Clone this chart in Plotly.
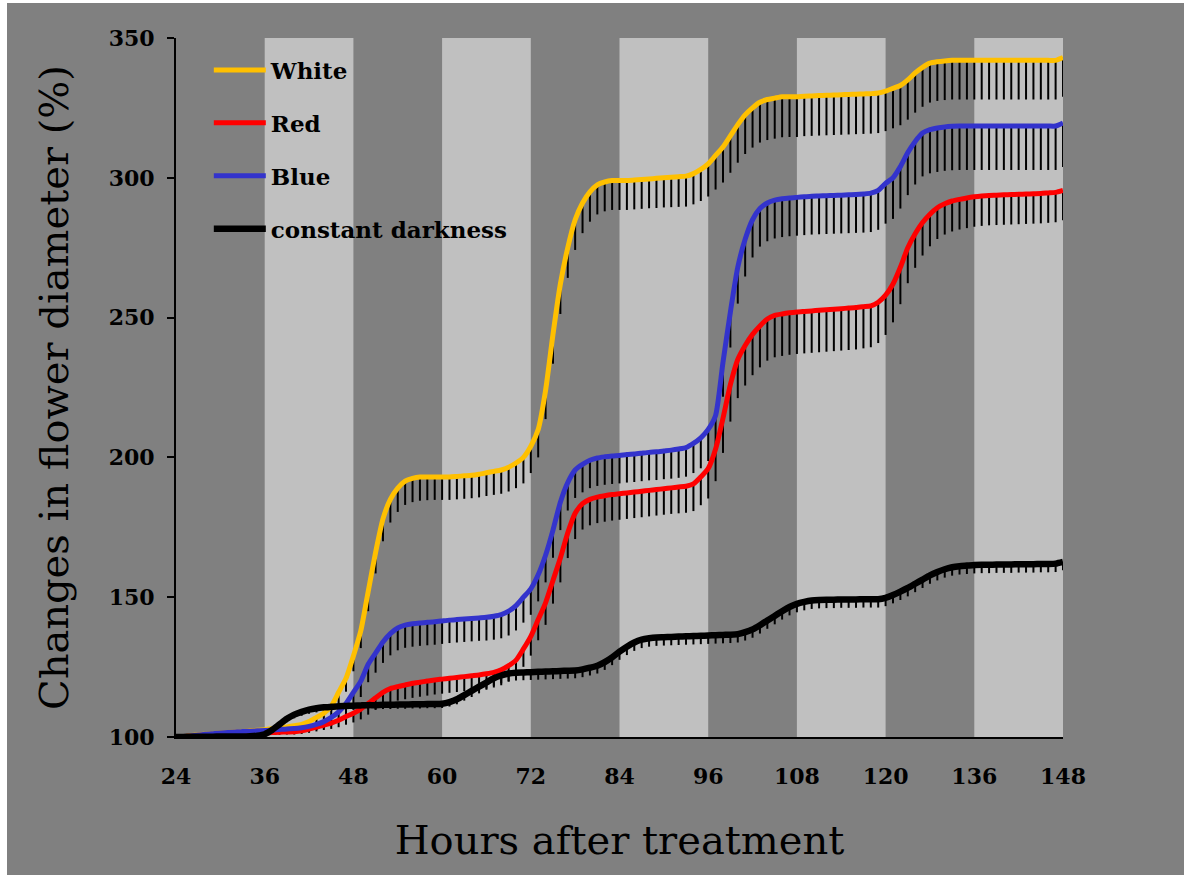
import plotly.graph_objects as go

# ---------------- data ----------------
hours = list(range(24, 145))  # hourly, 24 .. 144

tick_positions = [24, 36, 48, 60, 72, 84, 96, 108, 120, 132, 144]
tick_labels = ["24", "36", "48", "60", "72", "84", "96", "108", "120", "136", "148"]

light_period_starts = [36, 60, 84, 108, 132]
light_period_length = 12

white = [
    100, 100.2, 100.5, 100.8, 101, 101.2, 101.4, 101.6, 101.8, 102,
    102.2, 102.4, 102.6, 103, 103.3, 103.6, 104, 104.5, 105.5, 107,
    108.5, 111, 116, 121, 129, 138, 152, 166, 178, 185,
    189, 191.5, 192.5, 193, 193, 193, 193, 193, 193.2, 193.4,
    193.6, 194, 194.5, 195, 195.5, 196.5, 198, 200, 204, 210,
    224, 244, 262, 275, 285, 291, 295, 297.5, 298.5, 299,
    299, 299, 299.2, 299.4, 299.6, 299.8, 300, 300.2, 300.4, 300.6,
    301.5, 303, 305, 308, 311, 315, 319, 322.5, 325, 327,
    328, 328.5, 329, 329, 329, 329.2, 329.3, 329.4, 329.5, 329.6,
    329.7, 329.8, 329.9, 330, 330.1, 330.3, 331, 332, 333, 335,
    337.5, 339.5, 341, 341.5, 341.8, 342, 342, 342, 342, 342,
    342, 342, 342, 342, 342, 342, 342, 342, 342, 342,
    343,
]
white_err = [
    0.5, 0.5, 0.6, 0.6, 0.7, 0.7, 0.8, 0.8, 0.9, 0.9,
    1, 1, 1, 1.2, 1.3, 1.4, 1.5, 1.7, 2, 2.3,
    2.7, 3.2, 4, 4.8, 5.5, 6.2, 7, 7.5, 8, 8.3,
    8.5, 8.5, 8.5, 8.5, 8.3, 8.2, 8.2, 8.2, 8.2, 8.2,
    8.2, 8.3, 8.3, 8.4, 8.5, 8.7, 9, 9.3, 9.6, 10,
    10.3, 10.5, 10.7, 10.8, 10.8, 10.8, 10.7, 10.6, 10.5, 10.5,
    10.5, 10.5, 10.5, 10.5, 10.5, 10.6, 10.6, 10.7, 10.8, 10.9,
    11, 11.3, 11.7, 12.2, 12.7, 13.2, 13.6, 14, 14.2, 14.4,
    14.5, 14.5, 14.5, 14.4, 14.4, 14.3, 14.3, 14.3, 14.3, 14.3,
    14.3, 14.3, 14.3, 14.3, 14.3, 14.3, 14.3, 14.3, 14.2, 14.2,
    14.2, 14.1, 14.1, 14, 14, 14, 14, 14, 14, 14,
    14, 14, 14, 14, 14, 14, 14, 14, 14, 14,
    14,
]

red = [
    100, 100.1, 100.3, 100.5, 100.7, 100.9, 101, 101.1, 101.2, 101.3,
    101.4, 101.4, 101.5, 101.6, 101.7, 101.8, 101.9, 102.2, 102.8, 103.5,
    104.3, 105, 106, 107.3, 108.5, 110, 112, 114, 116, 117.3,
    118, 118.6, 119.2, 119.6, 120, 120.4, 120.7, 121, 121.3, 121.6,
    121.9, 122.2, 122.6, 123.1, 124, 125.5, 127.5, 131.5, 136, 142,
    148, 156, 164, 173, 180, 183.5, 185, 185.8, 186.3, 186.7,
    187, 187.3, 187.6, 187.9, 188.2, 188.5, 188.8, 189.1, 189.4, 189.7,
    190.5, 193, 196, 203, 214, 226, 235, 240, 244, 247,
    249.5, 250.8, 251.3, 251.7, 252, 252.2, 252.4, 252.6, 252.8, 253,
    253.2, 253.4, 253.6, 253.9, 254.2, 255.5, 258, 262, 268, 275,
    280, 284, 287, 289.3, 290.7, 291.7, 292.3, 292.8, 293.2, 293.5,
    293.7, 293.8, 293.9, 294, 294.1, 294.2, 294.3, 294.4, 294.6, 294.8,
    295.5,
]
red_err = [
    0.4, 0.4, 0.5, 0.5, 0.5, 0.6, 0.6, 0.6, 0.7, 0.7,
    0.7, 0.8, 0.8, 0.8, 0.9, 0.9, 1, 1.1, 1.3, 1.5,
    1.8, 2.1, 2.5, 2.9, 3.3, 3.7, 4, 4.3, 4.6, 4.8,
    5, 5.1, 5.2, 5.2, 5.2, 5.2, 5.2, 5.2, 5.2, 5.2,
    5.2, 5.2, 5.3, 5.4, 5.5, 5.7, 6, 6.4, 6.9, 7.4,
    7.9, 8.3, 8.7, 9, 9.2, 9.3, 9.3, 9.3, 9.3, 9.3,
    9.3, 9.3, 9.3, 9.3, 9.3, 9.3, 9.3, 9.3, 9.4, 9.5,
    9.7, 10.1, 10.7, 11.5, 12.4, 13.2, 13.8, 14.3, 14.6, 14.8,
    14.9, 15, 15, 15, 15, 15, 15, 15, 15, 15,
    15, 15, 15, 14.9, 14.8, 14.6, 14.2, 13.7, 13.2, 12.7,
    12.2, 11.8, 11.5, 11.2, 11, 10.9, 10.8, 10.8, 10.7, 10.7,
    10.7, 10.7, 10.7, 10.7, 10.7, 10.7, 10.7, 10.7, 10.7, 10.7,
    10.7,
]

blue = [
    100, 100.2, 100.4, 100.7, 101, 101.2, 101.4, 101.6, 101.8, 102,
    102.1, 102.2, 102.3, 102.5, 102.7, 102.9, 103, 103.3, 103.8, 104.5,
    105.5, 107, 109, 112, 116, 120, 126, 130, 134, 137,
    139, 140, 140.5, 140.8, 141, 141.2, 141.5, 141.8, 142, 142.2,
    142.4, 142.6, 142.8, 143.2, 143.8, 145, 147, 150, 153, 158,
    165, 174, 184, 191, 195.5, 197.5, 199, 199.8, 200.2, 200.5,
    200.7, 201, 201.2, 201.5, 201.8, 202, 202.3, 202.6, 203, 203.5,
    205, 207, 210, 215, 234, 252, 268, 278, 285, 289,
    291, 292, 292.5, 292.8, 293, 293.2, 293.4, 293.5, 293.6, 293.7,
    293.8, 293.9, 294, 294.2, 294.5, 295.5, 298, 300, 304, 309,
    313, 316, 317.2, 317.8, 318.2, 318.4, 318.5, 318.5, 318.5, 318.5,
    318.5, 318.5, 318.5, 318.5, 318.5, 318.5, 318.5, 318.5, 318.5, 318.5,
    319.6,
]
blue_err = [
    0.5, 0.5, 0.6, 0.6, 0.7, 0.7, 0.8, 0.8, 0.9, 0.9,
    1, 1, 1, 1.1, 1.2, 1.3, 1.4, 1.6, 1.8, 2,
    2.4, 3, 3.6, 4.3, 5, 5.7, 6.4, 7, 7.5, 7.8,
    8, 8.1, 8.2, 8.2, 8.2, 8.2, 8.2, 8.2, 8.2, 8.2,
    8.2, 8.2, 8.3, 8.4, 8.5, 8.7, 8.9, 9.1, 9.3, 9.5,
    9.7, 9.9, 10, 10, 10, 10, 10, 10, 10, 10,
    10, 10, 10, 10, 10, 10.1, 10.1, 10.2, 10.3, 10.4,
    10.6, 10.9, 11.3, 11.8, 12.3, 12.7, 13, 13.3, 13.5, 13.6,
    13.7, 13.7, 13.7, 13.7, 13.7, 13.7, 13.7, 13.7, 13.7, 13.7,
    13.7, 13.7, 13.7, 13.8, 13.9, 14.1, 14.4, 14.7, 15, 15.2,
    15.4, 15.5, 15.6, 15.7, 15.7, 15.7, 15.7, 15.7, 15.7, 15.7,
    15.7, 15.7, 15.7, 15.7, 15.7, 15.7, 15.7, 15.7, 15.7, 15.7,
    15.7,
]

dark = [
    100, 100, 100.1, 100.1, 100.1, 100.1, 100.2, 100.2, 100.2, 100.2,
    100.3, 100.5, 101, 102.5, 104.5, 106.5, 108, 109, 109.8, 110.3,
    110.6, 110.8, 111, 111.1, 111.2, 111.3, 111.4, 111.4, 111.5, 111.5,
    111.6, 111.6, 111.7, 111.7, 111.8, 111.8, 111.9, 112.5, 113.5, 115,
    116.5, 118, 119.5, 121, 122, 122.7, 123, 123.1, 123.2, 123.3,
    123.4, 123.5, 123.6, 123.7, 123.8, 124.2, 124.8, 125.5, 126.8, 128.5,
    130.5, 132.3, 133.8, 134.8, 135.3, 135.6, 135.7, 135.8, 135.9, 136,
    136.1, 136.2, 136.3, 136.4, 136.5, 136.6, 136.8, 137.5, 138.5, 140,
    141.7, 143.3, 145, 146.5, 147.6, 148.3, 148.8, 149, 149.1, 149.1,
    149.2, 149.2, 149.2, 149.3, 149.3, 149.3, 149.8, 150.8, 152, 153.3,
    154.8, 156.3, 157.8, 159, 160, 160.7, 161.1, 161.3, 161.5, 161.6,
    161.6, 161.7, 161.7, 161.7, 161.8, 161.8, 161.8, 161.9, 161.9, 162,
    162.6,
]
dark_err = [
    0.3, 0.3, 0.3, 0.3, 0.3, 0.3, 0.3, 0.3, 0.3, 0.3,
    0.3, 0.4, 0.6, 0.8, 1, 1.2, 1.3, 1.4, 1.5, 1.5,
    1.5, 1.5, 1.5, 1.5, 1.5, 1.5, 1.5, 1.5, 1.5, 1.5,
    1.5, 1.5, 1.5, 1.5, 1.5, 1.5, 1.5, 1.6, 1.8, 2,
    2.2, 2.4, 2.6, 2.7, 2.8, 2.8, 2.8, 2.8, 2.8, 2.8,
    2.8, 2.8, 2.8, 2.8, 2.8, 2.8, 2.8, 2.8, 2.8, 2.8,
    2.9, 3, 3, 3, 3, 3, 3, 3, 3, 3,
    3, 3, 3, 3, 3, 3, 3, 3, 3, 3,
    3, 3, 3, 3, 3, 3, 3, 3, 3, 3,
    3, 3, 3, 3, 3, 3, 3, 3, 3, 3,
    3, 3, 3, 3, 3, 3, 3, 3, 3, 3,
    3, 3, 3, 3, 3, 3, 3, 3, 3, 3,
    3,
]

series_names = ["White", "Red", "Blue", "constant darkness"]
series_values = [white, red, blue, dark]
series_errors = [white_err, red_err, blue_err, dark_err]
series_colors = ["#FFC000", "#FF0000", "#3333CC", "#000000"]
series_widths = [5, 5, 5, 6.5]

# ---------------- figure ----------------
BG = "#808080"
BAND = "#C0C0C0"
TICKFONT = dict(family="DejaVu Serif", size=22, color="black", weight="bold")
TITLEFONT = dict(family="DejaVu Serif", size=40, color="black")

fig = go.Figure()

# error bars (lower side only) drawn first, underneath the lines
for vals, errs in zip(series_values, series_errors):
    fig.add_trace(go.Scatter(
        x=hours, y=vals, mode="markers",
        marker=dict(size=1, opacity=0),
        error_y=dict(type="data", symmetric=False, array=[0] * len(errs),
                     arrayminus=errs, color="black", thickness=2, width=0),
        showlegend=False, hoverinfo="skip",
    ))

for name, vals, col, w in zip(series_names, series_values, series_colors, series_widths):
    fig.add_trace(go.Scatter(
        x=hours, y=vals, mode="lines", name=name, legendgroup=name,
        line=dict(color=col, width=w, shape="spline", smoothing=0.6),
    ))

# light periods
for s in light_period_starts:
    fig.add_vrect(x0=s, x1=s + light_period_length, fillcolor=BAND, opacity=1,
                  line_width=0, layer="below")

# thin white frame strips at the left and top edges of the picture (margin only)
fig.add_shape(type="rect", xref="paper", yref="paper",
              x0=(0 - 176) / 887, x1=(7 - 176) / 887,
              y0=(737 - 875) / 699, y1=(737 - 0) / 699,
              fillcolor="white", line_width=0, layer="above")
fig.add_shape(type="rect", xref="paper", yref="paper",
              x0=(0 - 176) / 887, x1=(1184 - 176) / 887,
              y0=(737 - 3) / 699, y1=(737 - 0) / 699,
              fillcolor="white", line_width=0, layer="above")

fig.update_layout(
    width=1184, height=875,
    margin=dict(l=176, r=121, t=38, b=138),
    paper_bgcolor=BG, plot_bgcolor=BG,
    showlegend=True,
    legend=dict(x=0.037, y=0.985, xanchor="left", yanchor="top",
                bgcolor="rgba(0,0,0,0)", borderwidth=0,
                font=dict(family="DejaVu Serif", size=23, color="black", weight="bold"),
                tracegroupgap=20, itemwidth=52, traceorder="grouped"),
    xaxis=dict(range=[24, 144], tickmode="array", tickvals=tick_positions,
               ticktext=tick_labels, showgrid=False, zeroline=False,
               showline=True, linecolor="black", linewidth=2, ticks="",
               tickfont=TICKFONT, ticklabelstandoff=19,
               title=dict(text="Hours after treatment", font=TITLEFONT, standoff=38)),
    yaxis=dict(range=[100, 350], tickmode="array", tickvals=[100, 150, 200, 250, 300, 350],
               showgrid=False, zeroline=False, showline=True, linecolor="black",
               linewidth=2, ticks="outside", ticklen=7, tickcolor="black", tickwidth=1.5,
               tickfont=TICKFONT, ticklabelstandoff=8,
               title=dict(text="Changes in flower diameter (%)", font=TITLEFONT, standoff=28)),
)

fig.write_html("out.html")
